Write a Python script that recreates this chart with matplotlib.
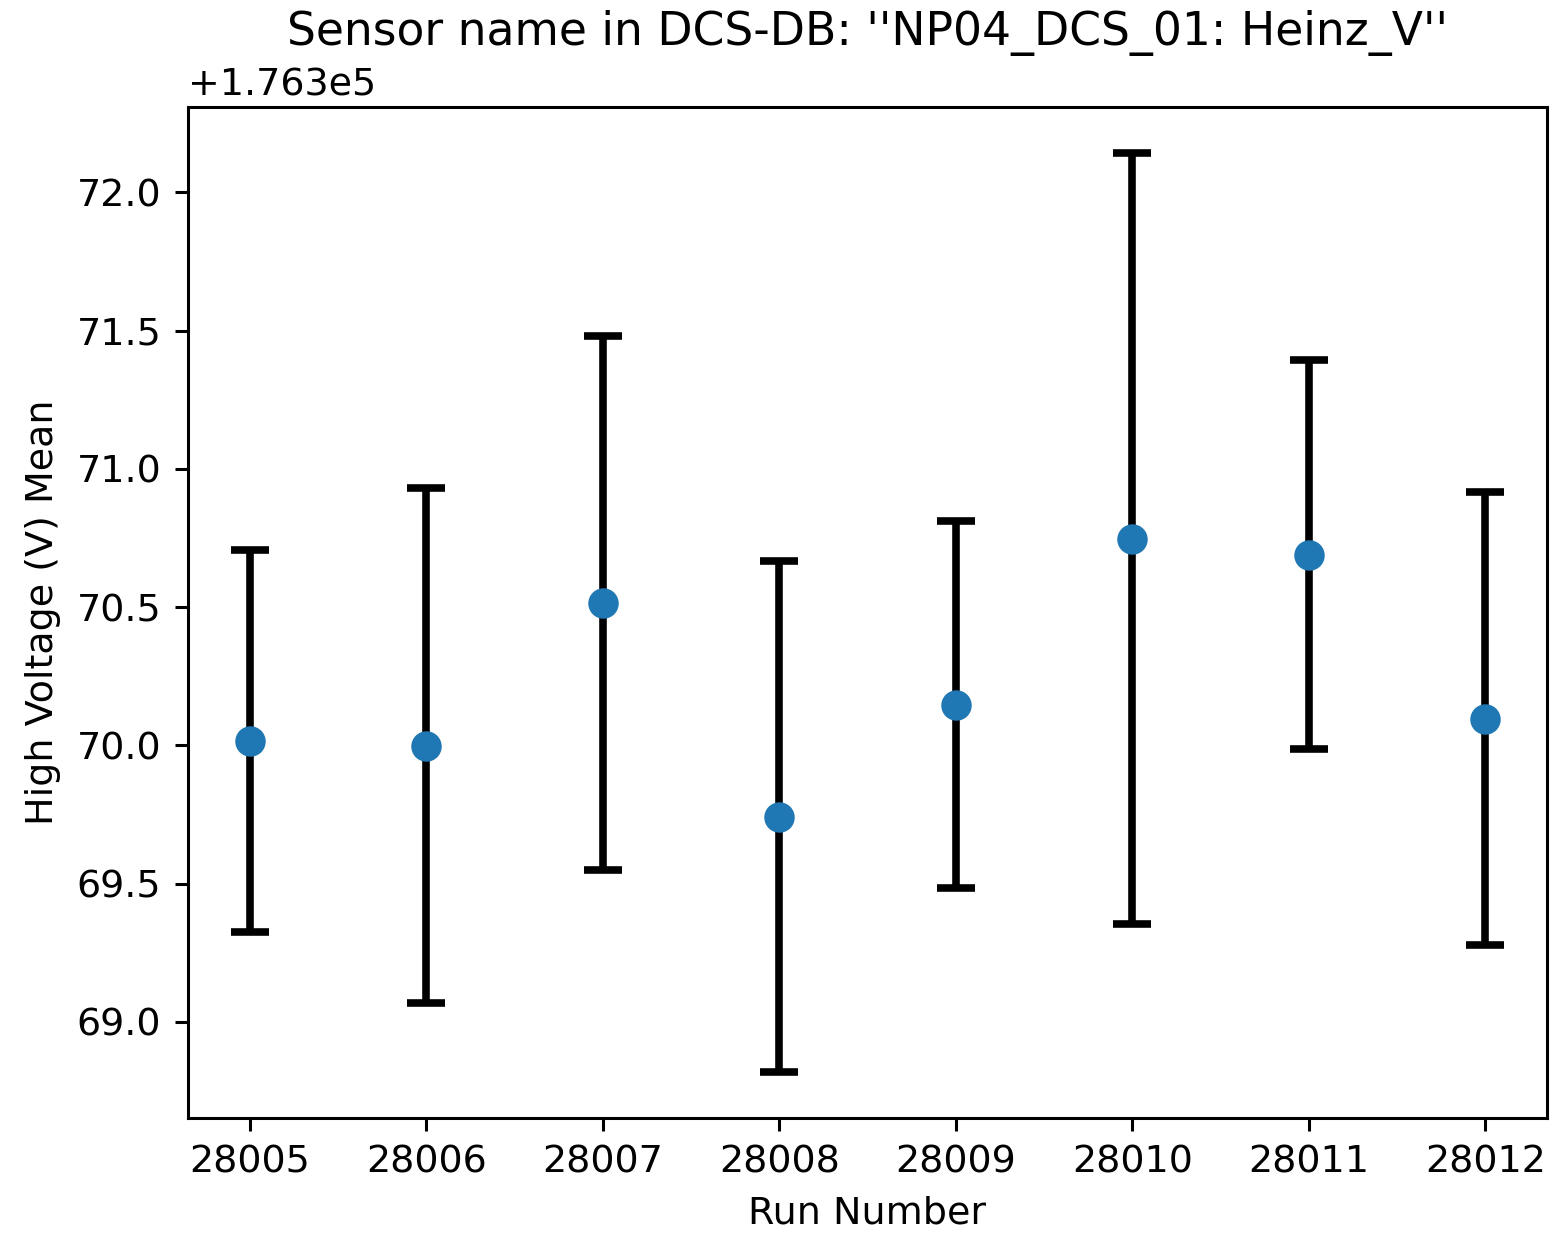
import matplotlib
matplotlib.use("Agg")
import matplotlib.pyplot as plt

runs = [28005, 28006, 28007, 28008, 28009, 28010, 28011, 28012]
hv_mean = [176370.015, 176369.999, 176370.516, 176369.742,
           176370.147, 176370.748, 176370.690, 176370.097]
hv_std = [0.690, 0.930, 0.966, 0.923, 0.663, 1.394, 0.702, 0.820]

dpi = 274
fig = plt.figure(figsize=(1553 / dpi, 1239 / dpi), dpi=dpi)
ax = fig.add_axes([188 / 1553, 1 - 1118 / 1239, (1547 - 188) / 1553, (1118 - 107) / 1239])

ax.errorbar(runs, hv_mean, yerr=hv_std, fmt="o", ecolor="black",
            elinewidth=2, capsize=5, capthick=2, markersize=7)
ax.set_xticks(runs)
ax.set_xlabel("Run Number")
ax.set_ylabel("High Voltage (V) Mean")
ax.set_title("Sensor name in DCS-DB: ''NP04_DCS_01: Heinz_V''")

fig.savefig("out.png", dpi=dpi)
